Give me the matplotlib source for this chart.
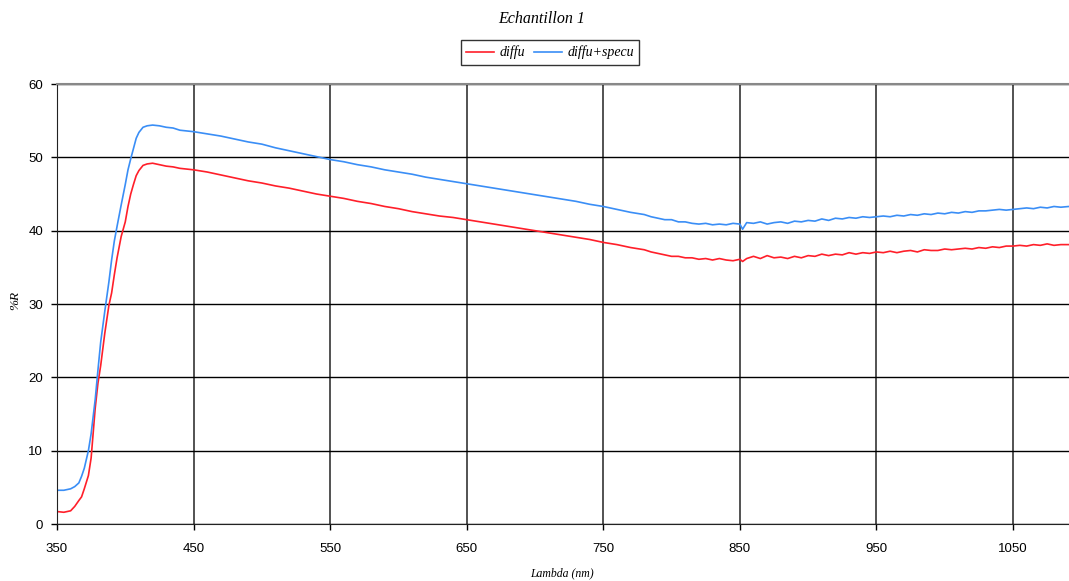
import matplotlib.pyplot as plt

# wavelengths (nm) and reflectance (%R)
lam_rise = [350, 355, 360, 363, 366, 368, 370, 372, 373, 375, 378, 380, 382, 385, 388,
            390, 392, 394, 397, 400, 402, 404, 406, 408, 410, 413, 416, 420, 425, 430, 435, 440]
diffu_rise = [1.7, 1.6, 1.8, 2.4, 3.2, 3.7, 4.8, 6.0, 6.6, 9.0, 15.8, 19.2, 21.6, 26.0, 29.8,
              31.5, 34.0, 36.3, 39.2, 41.2, 43.3, 45.0, 46.3, 47.5, 48.2, 48.9, 49.1, 49.2, 49.0, 48.8, 48.7, 48.5]
spec_rise = [4.6, 4.6, 4.8, 5.1, 5.6, 6.5, 7.6, 9.2, 10.0, 12.3, 17.0, 21.0, 24.8, 29.0, 33.0,
             36.0, 38.6, 40.6, 43.5, 46.3, 48.3, 49.8, 51.2, 52.6, 53.4, 54.1, 54.3, 54.4, 54.3, 54.1, 54.0, 53.7]

lam_mid = [450, 460, 470, 480, 490, 500, 510, 520, 530, 540, 550, 560, 570, 580, 590,
           600, 610, 620, 630, 640, 650, 660, 670, 680, 690, 700, 710, 720, 730, 740,
           750, 760, 770, 780]
diffu_mid = [48.3, 48.0, 47.6, 47.2, 46.8, 46.5, 46.1, 45.8, 45.4, 45.0, 44.7, 44.4, 44.0, 43.7, 43.3,
             43.0, 42.6, 42.3, 42.0, 41.8, 41.5, 41.2, 40.9, 40.6, 40.3, 40.0, 39.7, 39.4, 39.1, 38.8,
             38.4, 38.1, 37.7, 37.4]
spec_mid = [53.5, 53.2, 52.9, 52.5, 52.1, 51.8, 51.3, 50.9, 50.5, 50.1, 49.7, 49.4, 49.0, 48.7, 48.3,
            48.0, 47.7, 47.3, 47.0, 46.7, 46.4, 46.1, 45.8, 45.5, 45.2, 44.9, 44.6, 44.3, 44.0, 43.6,
            43.3, 42.9, 42.5, 42.2]

lam_tail = [785, 790, 795, 800, 805, 810, 815, 820, 825, 830, 835, 840, 845, 850, 852, 855,
            860, 865, 870, 875, 880, 885, 890, 895, 900, 905, 910, 915, 920, 925, 930, 935,
            940, 945, 950, 955, 960, 965, 970, 975, 980, 985, 990, 995, 1000, 1005, 1010, 1015,
            1020, 1025, 1030, 1035, 1040, 1045, 1050, 1055, 1060, 1065, 1070, 1075, 1080, 1085, 1091]
diffu_tail = [37.1, 36.9, 36.7, 36.5, 36.5, 36.3, 36.3, 36.1, 36.2, 36.0, 36.2, 36.0, 35.9, 36.1, 35.8, 36.2,
              36.5, 36.2, 36.6, 36.3, 36.4, 36.2, 36.5, 36.3, 36.6, 36.5, 36.8, 36.6, 36.8, 36.7, 37.0, 36.8,
              37.0, 36.9, 37.1, 37.0, 37.2, 37.0, 37.2, 37.3, 37.1, 37.4, 37.3, 37.3, 37.5, 37.4, 37.5, 37.6,
              37.5, 37.7, 37.6, 37.8, 37.7, 37.9, 37.9, 38.0, 37.9, 38.1, 38.0, 38.2, 38.0, 38.1, 38.1]
spec_tail = [41.9, 41.7, 41.5, 41.5, 41.2, 41.2, 41.0, 40.9, 41.0, 40.8, 40.9, 40.8, 41.0, 40.9, 40.2, 41.1,
             41.0, 41.2, 40.9, 41.1, 41.2, 41.0, 41.3, 41.2, 41.4, 41.3, 41.6, 41.4, 41.7, 41.6, 41.8, 41.7,
             41.9, 41.8, 41.9, 42.0, 41.9, 42.1, 42.0, 42.2, 42.1, 42.3, 42.2, 42.4, 42.3, 42.5, 42.4, 42.6,
             42.5, 42.7, 42.7, 42.8, 42.9, 42.8, 42.9, 43.0, 43.1, 43.0, 43.2, 43.1, 43.3, 43.2, 43.3]

lam = lam_rise + lam_mid + lam_tail
diffu = diffu_rise + diffu_mid + diffu_tail
diffu_specu = spec_rise + spec_mid + spec_tail

x_ticks = [350, 450, 550, 650, 750, 850, 950, 1050]
y_ticks = [0, 10, 20, 30, 40, 50, 60]

serif = ["Liberation Serif", "DejaVu Serif"]
sans = ["Liberation Sans", "DejaVu Sans"]

fig = plt.figure(figsize=(10.69, 5.81), dpi=100)
ax = fig.add_axes([0.0533, 0.0981, 0.9467, 0.7573])

ax.plot(lam, diffu, color="#ff1f2a", lw=1.2, label="diffu")
ax.plot(lam, diffu_specu, color="#3a8ef6", lw=1.2, label="diffu+specu")

ax.set_xlim(350, 1091)
ax.set_ylim(0, 60)
ax.set_xticks(x_ticks)
ax.set_yticks(y_ticks)
for lab in ax.get_xticklabels() + ax.get_yticklabels():
    lab.set_family(sans)
    lab.set_fontsize(9.5)

ax.yaxis.grid(True, color="black", lw=1.0)
ax.xaxis.grid(True, color="#444444", lw=1.3)
ax.set_axisbelow(True)
ax.tick_params(direction="out", length=4, width=1)
ax.tick_params(axis="x", pad=10)
ax.tick_params(axis="y", pad=6)

ax.spines["left"].set_color("#222222")
ax.spines["bottom"].set_color("#222222")
ax.spines["top"].set_color("#888888")
ax.spines["top"].set_linewidth(1.5)
ax.spines["right"].set_visible(False)

ax.set_xlabel("Lambda (nm)", family=serif, style="italic", fontsize=8.5, va="center")
ax.set_ylabel("%R", family=serif, style="italic", fontsize=9.5, va="center")
ax.xaxis.set_label_coords(0.499, -0.111)
ax.yaxis.set_label_coords(-0.0415, 0.509)

fig.text(0.5065, 0.968, "Echantillon 1", family=serif, style="italic", fontsize=11.5,
         ha="center", va="center")

leg = fig.legend(loc="center", bbox_to_anchor=(0.5146, 0.9095), ncol=2,
                 prop={"family": serif, "style": "italic", "size": 10},
                 frameon=True, fancybox=False, handlelength=2.0, columnspacing=0.7,
                 handletextpad=0.35, borderpad=0.4)
leg.get_frame().set_edgecolor("black")
leg.get_frame().set_linewidth(1.0)

fig.savefig("out.png", dpi=100)
